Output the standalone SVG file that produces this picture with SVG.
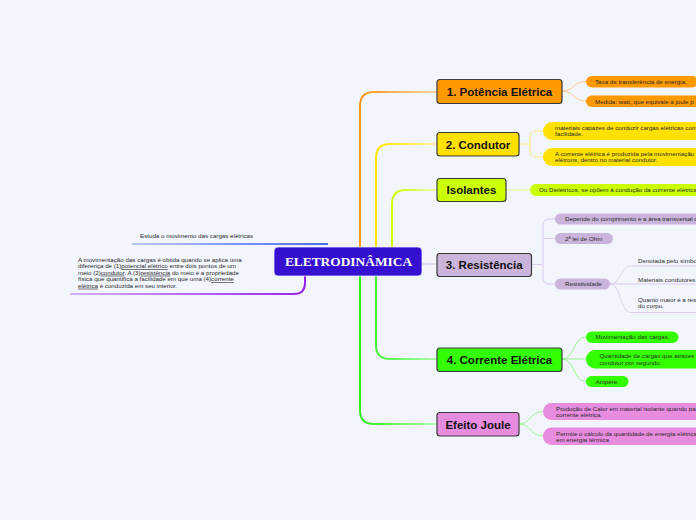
<svg xmlns="http://www.w3.org/2000/svg" width="696" height="520" viewBox="0 0 696 520">
<defs>
<linearGradient id="gOr" gradientUnits="userSpaceOnUse" x1="364" y1="0" x2="437" y2="0"><stop offset="0" stop-color="#ff9a1a"/><stop offset="1" stop-color="#ffd3a6"/></linearGradient>
<linearGradient id="gYe" gradientUnits="userSpaceOnUse" x1="380" y1="0" x2="437" y2="0"><stop offset="0" stop-color="#ffe600"/><stop offset="1" stop-color="#fff3a8"/></linearGradient>
<linearGradient id="gLi" gradientUnits="userSpaceOnUse" x1="396" y1="0" x2="437" y2="0"><stop offset="0" stop-color="#ccff00"/><stop offset="1" stop-color="#eeffb0"/></linearGradient>
<linearGradient id="gGr" gradientUnits="userSpaceOnUse" x1="364" y1="0" x2="437" y2="0"><stop offset="0" stop-color="#33ee22"/><stop offset="1" stop-color="#b0ffb0"/></linearGradient>
<linearGradient id="gBl" gradientUnits="userSpaceOnUse" x1="132" y1="0" x2="328" y2="0"><stop offset="0" stop-color="#b8c4ff"/><stop offset="1" stop-color="#4a6cf0"/></linearGradient>
<linearGradient id="gPu" gradientUnits="userSpaceOnUse" x1="70" y1="0" x2="305" y2="0"><stop offset="0" stop-color="#d6b0ff"/><stop offset="1" stop-color="#9a22f0"/></linearGradient>
</defs>
<style>
.main{stroke:#3a3a3a;stroke-width:1.2}
.mt{font-family:"Liberation Sans",Arial,sans-serif;font-weight:bold;font-size:11.5px;fill:#111;text-anchor:middle}
.st{font-family:"Liberation Sans",Arial,sans-serif;font-size:6.2px;fill:#2a2a2a}
.trunk{fill:none;stroke-width:2}
.sub{fill:none;stroke-width:1}
.u{text-decoration:underline}
</style>
<rect width="696" height="520" fill="#f3f5fd"/>

<g id="connectors">
<path class="trunk" stroke="url(#gOr)" d="M360,262 L360,106 Q360,92 374,92 L437,92"/>
<path class="trunk" stroke="url(#gYe)" d="M376,262 L376,158 Q376,144 390,144 L437,144"/>
<path class="trunk" stroke="url(#gLi)" d="M392,262 L392,204 Q392,190 406,190 L437,190"/>
<path class="trunk" stroke="#e2daf0" d="M422,264 L437,264"/>
<path class="trunk" stroke="url(#gGr)" d="M376,262 L376,345 Q376,359 390,359 L437,359"/>
<path class="trunk" stroke="url(#gGr)" d="M360,262 L360,410 Q360,424 374,424 L437,424"/>
<path class="trunk" stroke="url(#gBl)" stroke-width="1.2" d="M132,244 L328,244"/>
<path class="trunk" stroke="url(#gPu)" stroke-width="1.6" d="M305,276 L305,283 Q305,294 294,294 L70,294"/>
<!-- Potencia -->
<path class="sub" stroke="#ffc98f" d="M562,91 C574,91 573,81.5 586,81.5"/>
<path class="sub" stroke="#ffc98f" d="M562,91 C574,91 573,101 586,101"/>
<!-- Condutor -->
<path class="sub" stroke="#ffeb80" d="M519,144 L530,144 M543,131 L536,131 Q530,131 530,137 L530,151 Q530,157 536,157 L543,157"/>
<!-- Isolantes -->
<path class="sub" stroke="#e4ff8a" d="M506,190 L530,190"/>
<!-- Resistencia -->
<path class="sub" stroke="#dccdec" d="M531,264.5 L543,264.5 M555,219 L549,219 Q543,219 543,225 L543,278 Q543,284 549,284 L555,284 M543,238.5 L555,238.5"/>
<path class="sub" stroke="#dccdec" d="M610,284 C621,284 620,266 631,266 L700,266 M610,284 L700,284 M610,284 C621,284 620,312.5 631,312.5 L700,312.5"/>
<!-- Corrente -->
<path class="sub" stroke="#99f590" d="M562,359 C575,359 573,337 586,337"/>
<path class="sub" stroke="#99f590" d="M562,359 L586,359"/>
<path class="sub" stroke="#99f590" d="M562,359 C575,359 573,381.5 586,381.5"/>
<!-- Efeito Joule -->
<path class="sub" stroke="#99f590" d="M519,424 C531,424 530,411.5 543,411.5"/>
<path class="sub" stroke="#99f590" d="M519,424 C531,424 530,436 543,436"/>
</g>

<g id="center">
<rect x="274" y="247" width="148" height="29" rx="4" fill="#3410d0" stroke="#e8e6ff" stroke-width="0.8"/>
<text x="348.5" y="265.5" text-anchor="middle" font-family="'Liberation Serif','Times New Roman',serif" font-weight="bold" font-size="13.4" fill="#ffffff">ELETRODINÂMICA</text>
</g>

<g id="n-potencia">
<rect class="main" x="437" y="79.5" width="125" height="24" rx="3" fill="#ff9900"/>
<text class="mt" x="499.5" y="95.5">1. Potência Elétrica</text>
</g>
<g id="n-potencia-1">
<rect x="586" y="76" width="112" height="11.5" rx="5.75" fill="#ff9900"/>
<text class="st" x="595" y="84">Taxa de transferência de energia.</text>
</g>
<g id="n-potencia-2">
<rect x="586" y="95.5" width="130" height="11.5" rx="5.75" fill="#ff9900"/>
<text class="st" x="595" y="103.5">Medida: watt, que equivale a joule p</text>
</g>

<g id="n-condutor">
<rect class="main" x="437" y="132.5" width="82" height="23.5" rx="3" fill="#ffe100"/>
<text class="mt" x="478" y="148.5">2. Condutor</text>
</g>
<g id="n-condutor-1">
<rect x="543" y="122" width="170" height="18" rx="9" fill="#ffe100"/>
<text class="st" x="555" y="130">materiais capazes de conduzir cargas elétricas com</text>
<text class="st" x="555" y="136">facilidade.</text>
</g>
<g id="n-condutor-2">
<rect x="543" y="148" width="170" height="18" rx="9" fill="#ffe100"/>
<text class="st" x="555" y="155.5">A corrente elétrica é produzida pela movimentação</text>
<text class="st" x="555" y="161.5">elétrons, dentro no material condutor.</text>
</g>

<g id="n-isolantes">
<rect class="main" x="437" y="178.5" width="69" height="23" rx="3" fill="#ccff00"/>
<text class="mt" x="471.5" y="194.2">Isolantes</text>
</g>
<g id="n-isolantes-1">
<rect x="530" y="184" width="190" height="12" rx="6" fill="#ccff00"/>
<text class="st" x="539" y="192.2">Ou Dielétricos, se opõem à condução da corrente elétrica</text>
</g>

<g id="n-resistencia">
<rect class="main" x="437" y="253.5" width="94.5" height="23" rx="3" fill="#cbb4dc"/>
<text class="mt" x="484.2" y="269.3">3. Resistência</text>
</g>
<g id="n-resistencia-1">
<rect x="555" y="213.5" width="160" height="11" rx="5.5" fill="#cbb4dc"/>
<text class="st" x="565" y="221.2">Depende do comprimento e a área transversal d</text>
</g>
<g id="n-resistencia-2">
<rect x="555" y="233" width="58" height="11" rx="5.5" fill="#cbb4dc"/>
<text class="st" x="565" y="240.7">2ª lei de Ohm</text>
</g>
<g id="n-resistividade">
<rect x="555" y="278.5" width="55" height="11" rx="5.5" fill="#cbb4dc"/>
<text class="st" x="565" y="286.2">Resistividade</text>
</g>
<g id="n-resistividade-1">
<text class="st" x="638" y="263">Denotada pelo símbo</text>
</g>
<g id="n-resistividade-2">
<text class="st" x="638" y="282">Materiais condutores</text>
</g>
<g id="n-resistividade-3">
<text class="st" x="638" y="301.5">Quanto maior é a res</text>
<text class="st" x="638" y="307.5">do corpo.</text>
</g>

<g id="n-corrente">
<rect class="main" x="437" y="348" width="125" height="23.5" rx="3" fill="#33ff00"/>
<text class="mt" x="499.5" y="364">4. Corrente Elétrica</text>
</g>
<g id="n-corrente-1">
<rect x="586" y="331.5" width="92.5" height="11.5" rx="5.75" fill="#33ff00"/>
<text class="st" x="595.5" y="339.3">Movimentação das cargas.</text>
</g>
<g id="n-corrente-2">
<rect x="586" y="350" width="130" height="18.5" rx="9" fill="#33ff00"/>
<text class="st" x="599.5" y="357.5">Quantidade de cargas que atraves</text>
<text class="st" x="599.5" y="365">condutor por segundo.</text>
</g>
<g id="n-corrente-3">
<rect x="586" y="376" width="42.5" height="11" rx="5.5" fill="#33ff00"/>
<text class="st" x="595.5" y="383.7">Ampére.</text>
</g>

<g id="n-joule">
<rect class="main" x="437" y="412.5" width="82" height="23.5" rx="3" fill="#e88ce0"/>
<text class="mt" x="478" y="428.5">Efeito Joule</text>
</g>
<g id="n-joule-1">
<rect x="543" y="403" width="175" height="17" rx="8.5" fill="#e88ce0"/>
<text class="st" x="556" y="410.5">Produção de Calor em material isolante quando pa</text>
<text class="st" x="556" y="417">corrente elétrica.</text>
</g>
<g id="n-joule-2">
<rect x="543" y="427.5" width="175" height="17.5" rx="8.5" fill="#e88ce0"/>
<text class="st" x="556" y="435.5">Permite o cálculo da quantidade de energia elétrica</text>
<text class="st" x="556" y="442">em energia térmica</text>
</g>

<g id="n-estuda">
<text class="st" x="140" y="238">Estuda o movimento das cargas elétricas</text>
</g>
<g id="n-paragrafo">
<text class="st" x="78" y="261.5">A movimentação das cargas é obtida quando se aplica uma</text>
<text class="st" x="78" y="268.2">diferença de (1)<tspan class="u">potencial elétrico</tspan> entre dois pontos de um</text>
<text class="st" x="78" y="274.7">meio (2)<tspan class="u">condutor</tspan>. A (3)<tspan class="u">resistência</tspan> do meio é a propriedade</text>
<text class="st" x="78" y="281.2">física que quantifica a facilidade em que uma (4)<tspan class="u">corrente </tspan></text>
<text class="st" x="78" y="287.7"><tspan class="u">elétrica</tspan> é conduzida em seu interior.</text>
</g>
</svg>
